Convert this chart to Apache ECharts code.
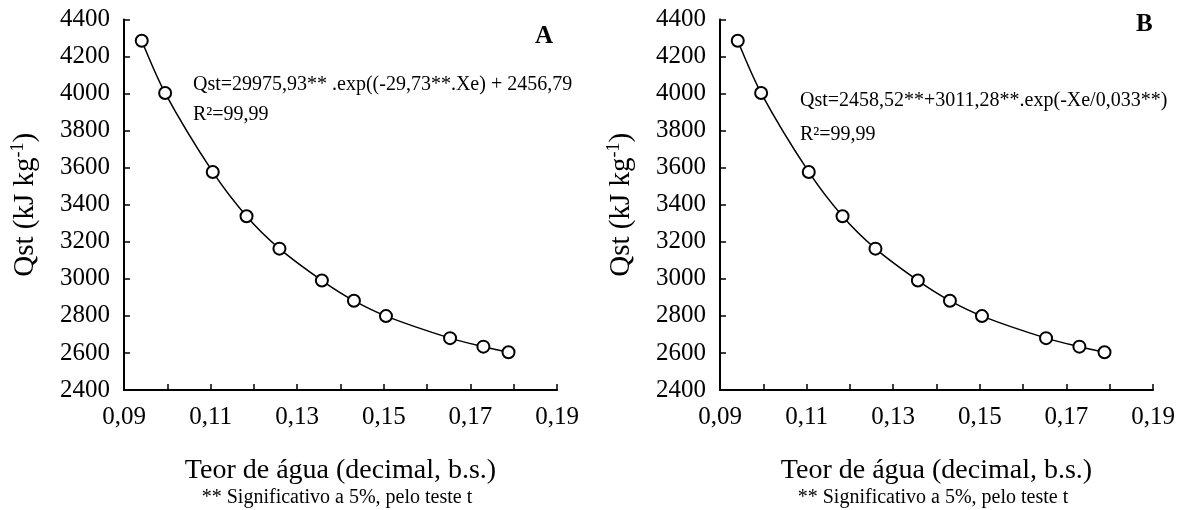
<!DOCTYPE html>
<html lang="pt">
<head>
    <meta charset="UTF-8">
    <title>Qst</title>
    <script src="https://cdn.jsdelivr.net/npm/echarts@6/dist/echarts.min.js"></script>
    <style>
        body { margin: 0; background: #fff; }
        #main { width: 1181px; height: 510px; }
    </style>
</head>
<body>
<div id="main"></div>
<script>
    // teor de agua (decimal, b.s.) e calor isosterico (kJ/kg)
    var xe = [0.0941, 0.0995, 0.1105, 0.1183, 0.1259, 0.1357, 0.1431, 0.1505, 0.1653, 0.1730, 0.1788];
    var qst = [4285, 4003, 3577, 3338, 3163, 2991, 2882, 2799, 2680, 2634, 2604];
    var xTicks = [0.09, 0.11, 0.13, 0.15, 0.17, 0.19];
    var panels = ['A', 'B'];
    var equations = [
        'Qst=29975,93** .exp((-29,73**.Xe) + 2456,79',
        'Qst=2458,52**+3011,28**.exp(-Xe/0,033**)'
    ];

    var chart = echarts.init(document.getElementById('main'));
    var font = 'Liberation Serif';
    var lefts = [124, 720];
    var eqPos = [[193, 85, 115], [800, 101, 135]];
    var letterPos = [[535, 37], [1136, 25]];

    var grids = [], xAxes = [], yAxes = [], series = [], graphics = [];
    var pts = xe.map(function (x, i) { return [x, qst[i]]; });
    var shown = xTicks.map(function (t) { return Math.round(t * 100); });

    lefts.forEach(function (l, k) {
        grids.push({ left: l, top: 19.5, width: 433, height: 370.5 });
        xAxes.push({
            type: 'value', gridIndex: k, min: 0.09, max: 0.19, interval: 0.01,
            name: 'Teor de água (decimal, b.s.)', nameLocation: 'middle', nameGap: 67,
            nameTextStyle: { fontFamily: font, fontSize: 28, color: '#000' },
            axisLine: { lineStyle: { color: '#000', width: 2 } },
            axisTick: { inside: true, length: 6, lineStyle: { color: '#000', width: 1.5 } },
            splitLine: { show: false },
            axisLabel: {
                fontFamily: font, fontSize: 25, color: '#000', margin: 15,
                formatter: function (v) {
                    if (shown.indexOf(Math.round(v * 100)) < 0) return '';
                    return v.toFixed(2).replace('.', ',');
                }
            }
        });
        yAxes.push({
            type: 'value', gridIndex: k, min: 2400, max: 4400, interval: 200,
            name: '{a|Qst (kJ kg}{s|-1}{a|)}', nameLocation: 'middle', nameGap: 83, nameRotate: 90,
            nameTextStyle: {
                color: '#000',
                rich: {
                    a: { fontFamily: font, fontSize: 29, color: '#000', lineHeight: 32 },
                    s: { fontFamily: font, fontSize: 18, color: '#000', verticalAlign: 'top', lineHeight: 18 }
                }
            },
            axisLine: { show: true, lineStyle: { color: '#000', width: 2 } },
            axisTick: { show: true, inside: true, length: 6, lineStyle: { color: '#000', width: 1.5 } },
            splitLine: { show: false },
            axisLabel: {
                fontFamily: font, fontSize: 25, color: '#000', margin: 14,
                formatter: function (v) { return String(v); }
            }
        });
        series.push({
            type: 'line', xAxisIndex: k, yAxisIndex: k, data: pts,
            smooth: 0.3,
            symbol: 'emptyCircle', symbolSize: 12, showAllSymbol: true,
            lineStyle: { color: '#000', width: 1.5 },
            itemStyle: { color: '#000', borderColor: '#000', borderWidth: 1.6 },
            silent: true, z: 3
        });
        graphics.push({
            type: 'text', x: eqPos[k][0], y: eqPos[k][1],
            style: { text: equations[k], fontFamily: font, fontSize: 20, fill: '#000', verticalAlign: 'middle' }
        });
        graphics.push({
            type: 'text', x: eqPos[k][0], y: eqPos[k][2],
            style: { text: 'R²=99,99', fontFamily: font, fontSize: 20, fill: '#000', verticalAlign: 'middle' }
        });
        graphics.push({
            type: 'text', x: letterPos[k][0], y: letterPos[k][1],
            style: { text: panels[k], fontFamily: font, fontSize: 25, fontWeight: 'bold', fill: '#000', verticalAlign: 'middle' }
        });
        graphics.push({
            type: 'text', x: l + 213, y: 498,
            style: { text: '** Significativo a 5%, pelo teste t', fontFamily: font, fontSize: 20,
                fill: '#000', align: 'center', verticalAlign: 'middle' }
        });
    });

    chart.setOption({
        animation: false,
        grid: grids,
        xAxis: xAxes,
        yAxis: yAxes,
        series: series,
        graphic: graphics
    });
</script>
</body>
</html>
